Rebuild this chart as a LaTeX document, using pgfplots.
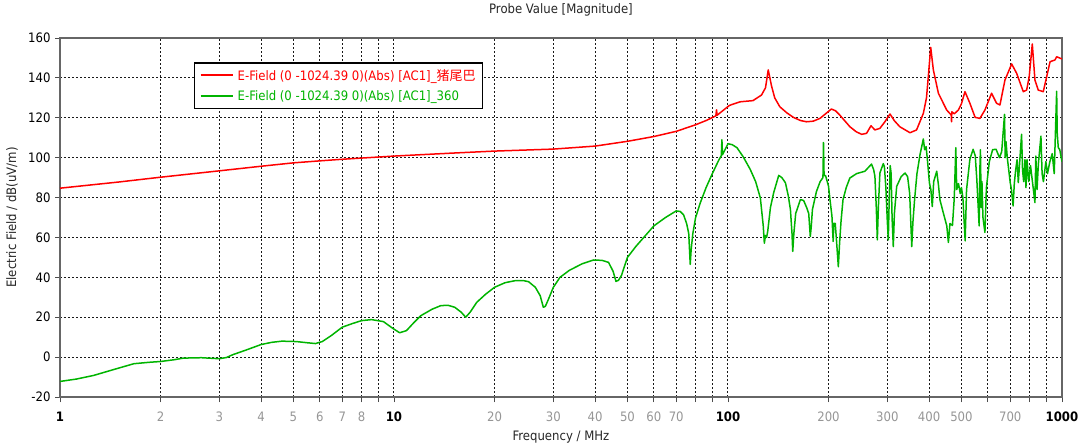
\documentclass[border=0pt]{standalone}
\usepackage{fontspec}
\setmainfont{DejaVu Sans Condensed}
\newfontfamily\cjk{Noto Sans CJK SC}
\usepackage{pgfplots}
\pgfplotsset{compat=1.18}
\usepackage{pgfplotstable}
\definecolor{cstred}{RGB}{255,0,0}
\definecolor{cstgreen}{RGB}{0,180,0}
\definecolor{minorlab}{RGB}{150,150,150}
\newcommand\fsz{\fontsize{13}{15}\selectfont}

\pgfplotstableread{
f v
1 84.7
1.5 87.8
2 90.2
3 93.4
4 95.7
5 97.4
6 98.4
7 99.2
8 99.8
10 100.8
15 102.3
20 103.3
30 104.3
40 105.8
50 108.2
60 110.6
70 113.2
80 116.5
86.5 118.8
92 121
92.4 124
92.8 121.3
101 126.2
108.6 128
118.8 128.6
126 131.4
129.5 135
132 144
135 136
138 130
143 125.5
150 122.5
157 120.2
165 118.6
172 118
180 118.3
188.6 119.7
196 122
204 124.4
210 123.5
216 121.4
231.8 115.5
242 113
251.4 111.7
260 112.2
268 116
275.4 113.9
285 114.7
295 118
305.6 121.9
315 118.5
327 115.5
350.8 112.5
367 113.9
384.6 122.2
393 130
398 140.6
404.6 155.3
412 144
426.6 132.3
451.6 123.9
466 121.4
467 118
468 123
476 122
489.6 123.9
500 127
512.4 133.1
530 127.3
549.5 120.2
568 119.7
588 123.9
615.5 132.3
637 127.3
652 126.4
675 138.9
707 147
731.6 142.3
766 133.1
784 133.9
798 140.6
815 157
830 138.9
849 133.9
879 133.1
900 140.6
921 148.1
953 149
964 150.6
1000 149.5
}\redtab

\pgfplotstableread{
f v
1 -12.2
1.12 -11
1.26 -9.2
1.45 -6.2
1.665 -3.3
1.85 -2.6
2 -2.2
2.2 -1.3
2.34 -0.5
2.65 -0.3
2.85 -0.6
3 -0.8
3.15 -0.2
3.29 1.2
3.6 3.5
4 6.3
4.3 7.4
4.62 8
5.1 7.8
5.5 7.2
5.82 6.8
6.1 7.8
6.49 10.8
7 15
7.5 16.8
8 18.3
8.57 18.8
9.3 17.8
9.9 14.5
10.4 12.2
10.9 13.3
11.5 17.5
12.04 20.8
13 24
13.8 25.8
14.5 26
15.2 25
15.9 22.5
16.4 20
16.9 22.5
17.7 27.5
18.8 31.5
20 35
21.5 37.3
23 38.3
24.5 38.3
25.3 37.8
26.5 35
27.4 30.8
28 25
28.4 25.5
29 29
30 35
31.4 40
33.5 43.5
36.6 46.8
39.6 48.7
42 48.5
43.9 47.5
45.3 43
46.2 38
47 38.5
48 41
50 50
53 55.5
56.5 60.8
60 65.8
65 70
70 73.3
72 73
73.6 71.4
75.2 67
76.3 62
77.1 46.5
77.6 54
78.5 62
80 70
82.6 77.3
86 85
90 92.4
94 99
95.5 101
95.9 109
96.3 101.5
100 107
103 106.5
106.4 105
111 100.5
116.6 94.1
121 88
125 79.8
127.5 66
128.5 57.1
129.5 61
130.5 60
131.5 63
134 75
137 82.4
141.9 91.1
145 90
148.6 87.4
151.5 81
153.8 74
155.5 62
156.3 53
157.5 62
159.5 72
164.8 79
168.5 78.5
172 75
174.5 72
176.4 60.5
177.5 65
179 74
184 83
188.8 88
192.5 90
193.2 107.6
194 91
196 91
200 85.7
202 79
204.8 70.6
206.5 58
207.5 67
209.5 67
211 60
214 45.3
216 58
218 68
221 78.9
226 85
231.7 89.8
242.7 92
257 93.2
263 95
269 96.8
273 94
275.4 90.6
278 75
280 58.8
282 75
285 92.3
291.7 97
294 95.5
297 85
300 68
302 58.8
304 80
306 96
308 92
310 70
312.6 55.4
315 72
320 85.6
330 90.5
339 92.3
345 90.5
350 82
355 55.4
358 68
362 78.9
368 92
375.8 101.5
384.6 109.4
388 104
392 105.5
396 98
401 87.3
405 84
409 75.5
413 88
421.7 93.2
427 86
431 79
441 72.5
452 65.8
457 57.5
462 67
470 66
476 80
481 105
484 84
490 87
496 82
500 85
505 80
513 58.3
518 84
530 99.2
542 104.2
550 101
556 89
565 65.8
568 95
570 104
573 75
576 88
580 70
588 62.5
594 85
606 98
620 104
635 104.2
650 100
660 103
673 121.7
676 100
680 108
686 100
700 87.5
706 84
714 75.8
720 87
727 94
734 99
740 87.5
757 111.7
762 94
768 88
775 99
780 85
786 99
795 88
805 96
830 77.5
835 100.8
842 84
850 97
865 110.8
872 92
880 88
895 98
905 92
920 98
935 102
948 92
964 133.3
968 112
975 105
985 104
1000 98
}\greentab

\begin{document}
\begin{tikzpicture}[x=1pt,y=1pt,font=\fsz]
\useasboundingbox (0,0) rectangle (1080,445);
\begin{axis}[
  at={(60pt,48pt)}, anchor=south west,
  scale only axis, width=1002pt, height=359pt,
  xmode=log, xmin=1, xmax=1000, ymin=-20, ymax=160,
  /pgf/number format/assume math mode=true,
  ytick={-20,0,20,40,60,80,100,120,140,160},
  xtick={1,10,100,1000}, xticklabels={\textbf{1},\textbf{10},\textbf{100},\textbf{1000}},
  extra x ticks={2,3,4,5,6,7,8,20,30,40,50,60,70,200,300,400,500,700},
  extra x tick labels={2,3,4,5,6,7,8,20,30,40,50,60,70,200,300,400,500,700},
  extra x tick style={grid=none, tick label style={text=minorlab}},
  xticklabel shift=6pt,
  yticklabel shift=1pt,
  grid=both,
  major grid style={black!90, dash pattern=on 2pt off 2pt, line width=1pt},
  minor grid style={black!90, dash pattern=on 2pt off 2pt, line width=1pt},
  tick pos=left, tick align=outside,
  major tick length=5pt, minor tick length=5pt,
  tick style={black!70, line width=0.8pt},
  axis line style={black!60, line width=1.2pt},
  every tick label/.append style={font=\fsz},
  title={Probe Value [Magnitude]},
  title style={at={(axis description cs:0.5,1.0613)}, anchor=center, font=\fsz, text=black!85},
  xlabel={Frequency / MHz},
  xlabel style={at={(axis description cs:0.5,-0.1114)}, anchor=center, font=\fsz, text=black!85},
  ylabel={Electric Field / dB(uV/m)},
  ylabel style={at={(axis description cs:-0.0479,0.5)}, anchor=center, rotate=0, font=\fsz, text=black!85},
  legend style={at={(axis description cs:0.1337,0.9331)}, anchor=north west,
    draw=black, line width=1.5pt, fill=white, font=\fsz,
    inner xsep=5pt, inner ysep=4.5pt, row sep=5pt},
  legend cell align=left,
  legend image code/.code={\draw[#1, line width=2pt] (0pt,0pt) -- (32pt,0pt);},
]
\addplot[cstred, line width=1.5pt, line join=round] table[x=f,y=v] {\redtab};
\addlegendentry{\hspace{2pt}\textcolor{cstred}{E-Field (0 -1024.39 0)(Abs) [AC1]\_{\cjk 猪尾巴}}\hspace{2pt}}
\addplot[cstgreen, line width=1.5pt, line join=round] table[x=f,y=v] {\greentab};
\addlegendentry{\hspace{2pt}\textcolor{cstgreen}{E-Field (0 -1024.39 0)(Abs) [AC1]\_360}}
\end{axis}
\end{tikzpicture}
\end{document}
